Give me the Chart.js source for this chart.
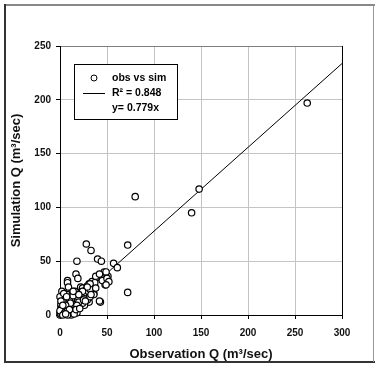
<!DOCTYPE html>
<html lang="en">
<head>
<meta charset="UTF-8">
<title>obs vs sim</title>
<script src="https://cdn.jsdelivr.net/npm/chart.js@4.4.1/dist/chart.umd.min.js"></script>
<style>
    body { margin: 0; background: #fff; }
    canvas { display: block; }
</style>
</head>
<body>
<canvas id="chart" width="375" height="365"></canvas>
<script>
    const obsQ = [263, 148, 140, 80, 72, 72, 28, 33, 40, 44, 18, 57, 61, 47, 51, 50, 48, 43, 42,
        17, 19, 39, 36, 31, 8, 8, 29, 22, 24, 18, 31, 22, 26, 18, 18, 10, 12, 5, 2, 7, 4, 10, 9, 0,
        9, 8, 13, 16, 22, 27, 34, 38, 29, 24, 18, 9, 2, 1, 0, 6, 11, 4, 0, 2,
        1, 2, 3, 1, 3, 5, 6, 7, 4, 2, 12, 14, 15, 13, 20, 25, 30, 35, 45, 0, 1, 3, 5, 8, 10, 14,
        16, 20, 26, 29, 32, 37, 42, 49, 11, 6, 3, 12, 15, 8,
        50, 52, 49, 32, 29, 24, 20, 38, 36, 32, 25, 18, 17,
        1, 4, 7, 10, 6, 3, 14, 21, 27, 33];
    const simQ = [197, 117, 95, 110, 65, 21, 66, 60, 52, 50, 50, 48, 44, 40, 36, 32, 28, 12, 13,
        38, 34, 35, 20, 29, 32, 30, 20, 26, 25, 17, 12, 12, 9, 10, 2, 23, 20, 18, 16, 14, 11, 8, 3, 0,
        26, 19, 19, 14, 20, 23, 31, 36, 14, 11, 8, 11, 12, 8, 2, 5, 3, 15, 17, 22,
        1, 3, 1, 5, 7, 9, 12, 2, 4, 6, 14, 10, 6, 4, 16, 18, 22, 27, 32, 4, 10, 13, 2, 6, 15, 18,
        22, 12, 15, 27, 24, 30, 38, 40, 11, 9, 0, 0, 1, 0,
        34, 31, 28, 29, 26, 22, 19, 25, 19, 17, 14, 9, 5,
        13, 20, 17, 5, 1, 9, 22, 6, 13, 19];

    const slope = 0.779;
    const rSquared = '0.848';
    const fitX = [0, 300];
    const xTicks = [0, 50, 100, 150, 200, 250, 300];
    const yTicks = [0, 50, 100, 150, 200, 250];

    const points = obsQ.map((x, i) => ({ x: x, y: simQ[i] }));
    const fitLine = fitX.map(x => ({ x: x, y: slope * x }));

    const fontFamily = "Arial, 'Liberation Sans', sans-serif";

    // outer frame of the figure
    const framePlugin = {
        id: 'frame',
        afterDraw(chart) {
            const ctx = chart.ctx;
            ctx.save();
            ctx.lineWidth = 2;
            ctx.strokeStyle = '#888';
            ctx.beginPath();
            ctx.moveTo(5, 5);
            ctx.lineTo(375, 5);
            ctx.stroke();
            ctx.strokeStyle = '#333';
            ctx.beginPath();
            ctx.moveTo(5, 4);
            ctx.lineTo(5, 362);
            ctx.lineTo(375, 362);
            ctx.stroke();
            ctx.lineWidth = 1;
            ctx.strokeStyle = '#999';
            ctx.beginPath();
            ctx.moveTo(373.5, 5);
            ctx.lineTo(373.5, 362);
            ctx.stroke();
            ctx.restore();
        }
    };

    // boxed legend in the upper left of the plot
    const legendPlugin = {
        id: 'boxLegend',
        afterDraw(chart) {
            const ctx = chart.ctx;
            ctx.save();
            ctx.fillStyle = '#fff';
            ctx.fillRect(74, 64, 103, 55);
            ctx.strokeStyle = '#000';
            ctx.lineWidth = 1;
            ctx.strokeRect(74.5, 64.5, 103, 55);

            ctx.beginPath();
            ctx.arc(94, 78, 3, 0, Math.PI * 2);
            ctx.stroke();
            ctx.beginPath();
            ctx.moveTo(83, 93.5);
            ctx.lineTo(105, 93.5);
            ctx.stroke();

            ctx.fillStyle = '#000';
            ctx.font = 'bold 10.5px ' + fontFamily;
            ctx.textBaseline = 'middle';
            ctx.textAlign = 'left';
            ctx.fillText('obs vs sim', 112, 78);
            ctx.fillText('R\u00b2 = ' + rSquared, 112, 93);
            ctx.fillText('y= ' + slope + 'x', 112, 108);
            ctx.restore();
        }
    };

    new Chart(document.getElementById('chart'), {
        type: 'scatter',
        data: {
            datasets: [{
                label: 'obs vs sim',
                data: points,
                pointStyle: 'circle',
                pointRadius: 3.2,
                pointBorderWidth: 1.2,
                pointBorderColor: '#000',
                pointBackgroundColor: '#fff',
                clip: false,
                order: 0
            }, {
                type: 'line',
                label: 'fit',
                data: fitLine,
                borderColor: '#000',
                borderWidth: 1,
                pointRadius: 0,
                fill: false,
                order: 1
            }]
        },
        options: {
            responsive: false,
            animation: false,
            layout: { padding: { left: 0, top: 46, right: 33, bottom: 0 } },
            plugins: {
                legend: { display: false },
                tooltip: { enabled: false }
            },
            scales: {
                x: {
                    type: 'linear',
                    min: 0,
                    max: 300,
                    afterBuildTicks: s => { s.ticks = xTicks.map(v => ({ value: v })); },
                    afterFit: s => { s.height = 50; },
                    grid: {
                        color: c => c.tick.value === 300 ? '#000' : '#c4c4c4',
                        tickColor: '#000',
                        tickLength: 4
                    },
                    border: { color: '#000', width: 1 },
                    ticks: {
                        padding: 8,
                        color: '#111',
                        font: { family: fontFamily, size: 10, weight: 'bold' }
                    },
                    title: {
                        display: true,
                        text: 'Observation Q (m\u00b3/sec)',
                        color: '#111',
                        padding: { top: 0, bottom: 3 },
                        font: { family: fontFamily, size: 13, weight: 'bold' }
                    }
                },
                y: {
                    type: 'linear',
                    min: 0,
                    max: 250,
                    afterBuildTicks: s => { s.ticks = yTicks.map(v => ({ value: v })); },
                    afterFit: s => { s.width = 60; },
                    grid: {
                        color: c => c.tick.value === 250 ? '#808080' : '#c4c4c4',
                        tickColor: '#000',
                        tickLength: 4
                    },
                    border: { color: '#000', width: 1 },
                    ticks: {
                        padding: 5,
                        color: '#111',
                        font: { family: fontFamily, size: 10, weight: 'bold' }
                    },
                    title: {
                        display: true,
                        text: 'Simulation Q (m\u00b3/sec)',
                        color: '#111',
                        padding: { top: 9, bottom: 0 },
                        font: { family: fontFamily, size: 13, weight: 'bold' }
                    }
                }
            }
        },
        plugins: [framePlugin, legendPlugin]
    });
</script>
</body>
</html>
